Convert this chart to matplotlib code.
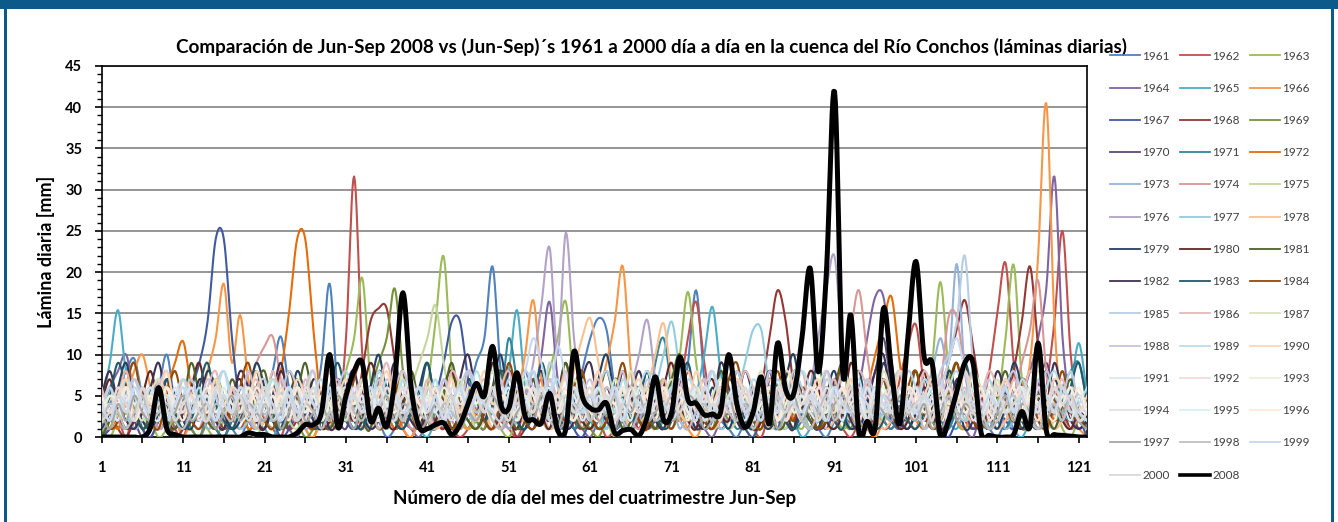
import numpy as np
import matplotlib
matplotlib.use("Agg")
import matplotlib.pyplot as plt
from matplotlib.patches import Rectangle
from matplotlib.lines import Line2D
from matplotlib.ticker import FixedLocator, MultipleLocator

plt.rcParams['font.family'] = ['Lato', 'DejaVu Sans']

days = list(range(1, 123))
years = list(range(1961, 2001)) + [2008]

y1961 = [2,4,6,8,9.5,5,3,6,10,4, 2,1,0,3,5,2,1,0,2,3,
         5,8,12.2,6,3,2,4,9,18.6,5, 2,1,3,4,2,0,1,3,5,2,
         1,3,6,4,2,5,9,12,20.7,8, 3,2,5,4,6,3,2,1,4,8,
         12,14.4,13,6,3,1,2,4,3,5, 2,4,9,17.8,7,3,2,1,0,2,
         4,6,3,2,1,3,5,2,1,0, 2,4,3,1,2,5,3,2,4,6,
         3,1,2,0,1,3,2,4,2,1, 0,2,3,5,4,2,1,3,2,4,
         2,1]
y1962 = [0,1,2,0,3,1,0,2,4,1, 0,3,5,2,1,0,2,1,3,6,
         2,1,0,3,4,2,1,5,8,3, 12,31.6,10,3,1,2,4,1,0,2,
         3,5,2,1,0,1,3,6,4,2, 1,0,2,4,7,3,1,2,5,3,
         1,2,0,1,3,6,2,1,4,7, 3,6,12,16.4,9,3,1,2,4,2,
         1,0,3,5,2,1,4,2,3,6, 2,1,0,2,5,3,1,2,7,11,
         13.6,6,2,1,3,4,2,1,3,8, 15,21.1,9,3,5,2,6,14,25,10,
         3,1]
y1963 = [1,0,2,3,1,4,2,0,1,3, 2,5,3,1,0,2,4,3,1,0,
         2,1,3,5,2,1,0,3,6,4, 8,12,19.3,7,3,2,5,3,1,2,
         6,14,21.9,8,3,1,2,4,3,1, 0,2,4,3,5,8,12,16.4,6,2,
         1,3,2,0,1,4,3,2,5,7, 4,10,17.6,9,3,1,2,4,2,1,
         0,3,2,5,4,2,1,3,2,6, 3,1,2,4,2,1,3,2,5,4,
         6,3,9,18.8,8,2,1,3,5,2, 4,12,20.9,7,3,1,2,4,1,0,
         2,1]
y1964 = [3,6,8,10,5,2,1,3,2,0, 1,2,4,3,1,0,2,5,3,1,
         2,4,3,1,0,2,3,1,4,6, 3,2,1,4,2,3,5,2,1,0,
         2,3,1,4,6,3,2,1,5,3, 2,4,8,5,10,16.4,7,3,2,1,
         0,2,3,1,4,2,5,3,1,2, 4,6,3,2,1,0,2,3,5,2,
         1,3,2,4,6,3,2,1,4,8, 5,3,2,6,12,17,17,9,3,2,
         1,4,2,3,5,2,1,0,3,4, 2,1,3,5,8,12,18,31.6,12,4,
         2,1]
y1965 = [4,9,15.4,8,9,5,3,1,2,4, 3,1,0,2,4,2,1,3,5,2,
         1,0,2,3,5,3,1,2,4,6, 3,2,5,4,1,2,3,6,2,1,
         0,2,4,3,6,4,2,5,9,4, 8,15.4,6,3,2,1,4,2,3,5,
         2,1,3,6,4,2,5,3,1,2, 4,3,2,5,10,15.8,8,3,2,1,
         3,5,2,1,4,2,0,1,3,2, 5,3,1,2,4,6,3,2,1,2,
         4,2,3,5,2,1,3,2,4,1, 2,3,1,0,2,5,3,2,4,6,
         11.4,5]
y1966 = [1,2,3,5,8,10,6,3,1,2, 0,2,4,8,12,18.6,9,14.8,7,3,
         2,1,3,2,4,1,0,2,3,5, 2,4,1,3,2,5,3,1,0,2,
         4,2,3,5,2,1,3,6,4,2, 3,5,10,16.6,7,3,2,1,4,3,
         2,5,9,14,20.7,8,3,2,1,4, 2,3,1,0,2,4,3,5,2,1,
         3,2,4,1,2,5,3,2,1,4, 2,3,5,2,1,0,2,4,3,2,
         1,3,2,5,4,2,1,3,2,4, 3,5,2,6,9,22,40.5,14,3,2,
         1,0]
y1967 = [0,1,3,2,4,1,0,2,3,5, 3,6,9,14,24,24,12,4,2,1,
         3,2,0,1,4,2,3,1,2,5, 2,1,3,2,6,3,1,2,4,2,
         3,5,9,14,14,7,3,2,1,4, 2,1,3,2,5,3,2,4,1,0,
         2,3,1,4,2,5,3,1,2,3, 5,2,4,3,1,2,6,3,2,1,
         0,2,3,1,4,2,5,3,2,1, 3,2,4,1,2,3,5,2,1,3,
         2,4,3,1,0,2,3,5,2,1, 3,2,1,4,3,2,5,3,2,1,
         2,0]
y1968 = [2,3,1,0,2,4,3,1,2,0, 1,3,2,5,3,1,2,4,2,1,
         3,2,4,1,2,3,5,2,1,4, 6,3,8,14,15.6,15.6,9,3,2,1,
         3,2,1,4,2,3,5,2,4,1, 2,0,1,3,2,4,3,5,2,1,
         3,2,4,1,2,3,1,4,2,5, 3,2,1,4,2,3,6,4,8,5,
         3,6,12,17.8,14,6,3,2,1,4, 2,3,5,2,4,3,2,1,3,5,
         2,4,3,6,9,13,16.6,11,5,3, 2,4,8,14,20.7,11,4,2,3,1,
         2,1]
y1969 = [0,2,1,3,2,4,5,3,1,2, 3,1,0,2,4,3,1,2,5,3,
         2,1,3,4,2,0,1,3,2,5, 3,2,4,6,9,12,18,8,3,2,
         1,3,2,4,3,5,2,1,3,2, 4,3,2,6,3,1,2,4,3,2,
         1,0,2,3,5,2,4,3,1,2, 3,2,5,3,2,1,4,2,3,5,
         2,1,3,4,2,3,5,2,4,6, 3,2,1,4,3,2,5,3,2,1,
         3,4,2,1,3,5,2,4,3,1, 2,3,5,2,1,3,2,4,3,2,
         1,2]
y1970 = [3,1,2,4,2,0,1,3,2,4, 2,3,5,2,1,3,2,4,1,2,
         4,3,2,1,3,5,2,1,3,2, 1,4,3,2,5,3,6,4,2,1,
         3,2,4,1,2,5,3,2,4,3, 2,1,4,6,3,2,5,3,1,2,
         3,5,2,4,1,3,2,6,4,2, 1,3,5,2,4,3,1,2,3,5,
         4,2,1,3,5,2,3,4,6,3, 2,4,3,1,5,8,12,6,3,2,
         4,2,3,5,2,6,3,1,2,4, 3,2,4,1,3,6,9,5,2,3,
         1,2]
y1971 = [2,5,3,1,2,4,6,3,2,1, 3,2,4,2,1,0,2,3,5,2,
         1,3,2,4,3,5,2,1,3,4, 2,5,3,2,4,1,3,2,5,3,
         2,1,3,5,2,4,3,6,8,5, 12,7,4,2,3,5,2,4,1,3,
         2,4,3,1,2,5,6,3,9,12, 6,3,2,4,3,2,5,3,1,2,
         4,3,2,5,3,1,2,4,3,2, 1,3,5,2,4,3,2,1,3,5,
         2,4,3,2,1,3,2,5,3,4, 2,1,3,2,4,5,3,2,6,8,
         9,4]
y1972 = [2,3,1,4,2,3,5,3,6,9, 11.6,6,3,2,1,3,2,4,1,2,
         3,5,8,15,24,24,13,4,2,1, 3,2,4,2,5,3,1,2,4,3,
         2,1,3,4,2,5,3,2,1,3, 4,2,5,3,2,1,3,4,2,5,
         3,1,2,4,3,2,5,3,2,1, 4,2,3,1,5,3,2,4,2,3,
         1,2,4,3,5,2,3,1,2,4, 3,5,2,4,6,10,14,17,9,3,
         2,1,3,2,4,3,5,2,1,3, 2,4,3,2,1,3,5,2,4,3,
         2,1]
y1973 = [1,3,2,4,1,2,3,5,2,1, 4,2,3,1,2,4,3,2,5,3,
         2,1,3,4,2,5,3,2,1,3, 4,2,5,3,2,1,3,4,6,3,
         2,4,3,1,2,3,5,2,4,3, 1,2,4,3,5,2,3,1,2,4,
         3,5,2,4,1,3,2,5,3,2, 4,1,3,2,5,3,2,4,3,1,
         2,4,3,5,2,1,3,2,4,3, 5,2,3,1,4,2,3,5,2,4,
         3,5,8,12,9,21,8,4,3,2, 3,1,2,4,3,2,5,3,2,1,
         3,2]
y1974 = [3,5,2,1,3,2,4,1,2,3, 2,4,3,5,2,1,3,4,6,9,
         11,12.2,7,3,2,4,3,1,2,4, 3,2,1,4,3,5,2,3,1,2,
         4,3,5,2,1,3,2,4,3,5, 2,1,3,4,2,6,3,2,4,1,
         3,2,5,3,4,2,1,3,5,2, 4,3,2,1,3,5,2,4,3,2,
         1,3,4,2,5,3,2,1,3,6, 4,8,13,17.8,10,4,2,3,1,2,
         4,3,2,6,14.5,14.5,8,3,2,4, 3,2,5,9,13,19,8,3,2,1,
         2,1]
y1975 = [2,1,3,2,4,3,1,5,2,3, 4,2,1,3,2,5,3,2,4,1,
         2,3,5,2,1,3,4,2,3,5, 2,4,3,1,2,4,5,3,6,9,
         12,16,9,4,2,3,1,2,4,3, 5,2,3,4,2,1,3,5,2,4,
         3,2,1,4,3,5,2,3,4,2, 1,3,2,5,4,2,3,1,2,4,
         3,5,2,3,1,4,2,3,5,2, 4,3,2,1,3,5,2,4,3,2,
         1,3,4,2,5,3,2,4,1,3, 2,5,3,2,4,3,1,2,3,5,
         2,3]
y1976 = [1,2,4,3,2,5,3,1,2,4, 3,2,1,4,3,2,5,3,2,1,
         3,4,2,5,3,1,2,4,3,2, 5,3,2,1,4,3,2,5,3,2,
         4,1,3,2,5,3,2,4,3,1, 2,4,5,9,16,23,10,24.8,12,4,
         3,2,4,1,3,6,10,14.2,7,3, 2,4,3,1,2,5,3,2,4,3,
         1,3,2,4,5,3,2,6,12,18, 21.9,10,4,2,3,1,4,3,2,5,
         3,2,4,1,3,5,2,3,4,2, 1,3,2,5,4,3,2,1,3,4,
         2,1]
y1977 = [2,4,3,1,5,3,2,4,3,2, 1,3,2,4,2,5,3,1,2,4,
         3,2,5,3,4,2,1,3,2,5, 4,2,3,1,2,4,3,5,2,3,
         1,4,2,3,5,2,4,3,1,2, 3,5,2,4,3,1,2,4,3,5,
         2,3,1,4,2,3,5,3,6,10, 14,8,3,2,4,3,1,2,5,9,
         13,13,6,3,2,4,3,1,2,3, 5,2,4,3,1,2,3,5,2,4,
         3,1,2,4,3,5,2,3,1,2, 4,3,2,5,3,1,2,4,3,2,
         3,1]
y1978 = [3,1,2,4,3,5,2,1,3,2, 4,3,5,2,1,3,2,4,3,1,
         2,4,3,5,2,3,1,2,4,3, 5,2,3,4,1,2,3,5,2,4,
         3,1,2,4,3,5,2,3,1,2, 4,3,2,5,3,1,2,4,8,12,
         14.4,9,4,2,3,1,4,6,10,13.8, 7,3,2,4,3,1,2,5,3,2,
         4,3,1,2,5,3,2,4,3,1, 2,3,5,2,4,3,1,2,3,5,
         2,4,3,1,2,5,3,2,4,3, 1,2,4,3,5,2,3,1,2,4,
         3,2]
y1979 = [1,3,6,9,4,2,1,3,7,5, 2,1,4,8,6,3,1,2,5,9,
         6,2,1,3,8,5,2,1,4,7, 3,1,2,6,10,5,2,1,3,6,
         9,4,2,1,3,7,5,2,6,10, 4,2,1,5,8,3,1,2,6,4,
         2,7,10,5,2,1,4,8,3,2, 5,9,4,1,2,6,3,1,4,8,
         5,2,1,3,7,10,4,2,1,5, 8,3,1,2,6,4,9,5,2,1,
         3,7,4,2,8,5,1,2,6,3, 1,4,9,6,2,1,3,7,4,2,
         5,3]
y1980 = [4,7,3,1,2,5,8,4,2,1, 3,6,9,4,2,1,5,7,3,2,
         1,4,8,5,2,6,3,1,2,7, 4,2,5,9,6,2,1,4,7,3,
         1,2,6,8,4,2,1,3,9,5, 2,1,4,7,3,1,5,9,4,2,
         1,3,6,4,8,5,2,1,3,6, 9,4,2,1,5,7,3,2,6,4,
         1,2,7,5,3,1,4,8,6,2, 1,3,9,5,2,4,7,3,1,2,
         6,8,3,1,2,5,9,4,2,1, 3,7,5,2,1,4,8,5,2,1,
         3,2]
y1981 = [0,2,5,8,4,1,3,6,2,1, 4,9,5,2,1,3,7,4,2,6,
         8,3,1,2,5,9,4,2,1,3, 6,4,2,1,7,5,2,3,8,4,
         2,1,5,9,4,2,1,3,6,8, 3,1,2,7,5,2,4,9,3,1,
         2,5,8,4,1,2,6,3,1,4, 7,10,4,2,1,3,8,5,2,1,
         4,6,3,1,2,8,5,2,1,3, 6,9,4,2,1,5,7,3,2,4,
         8,3,1,2,6,9,4,2,1,3, 5,8,4,1,2,6,3,1,4,7,
         3,1]
y1982 = [5,8,4,2,1,3,6,9,4,2, 1,3,7,5,2,1,4,8,6,2,
         1,5,9,4,2,3,7,5,1,2, 6,8,3,1,2,5,9,4,2,1,
         3,6,4,2,7,10,5,2,1,3, 8,5,2,1,4,6,3,1,2,7,
         9,4,2,1,3,5,8,4,2,1, 4,7,5,2,1,3,9,6,2,1,
         3,5,8,4,2,1,6,3,1,2, 7,5,2,1,4,8,10,4,2,1,
         3,6,4,1,2,7,5,2,1,4, 8,5,2,1,3,6,4,9,5,2,
         1,2]
y1983 = [2,5,9,6,3,1,2,4,7,3, 1,2,6,9,4,2,1,3,5,8,
         4,2,1,5,7,3,1,2,6,9, 5,2,1,4,8,6,2,1,3,5,
         9,4,2,1,3,7,5,2,4,8, 6,2,1,3,9,5,2,1,4,6,
         3,1,2,7,5,2,4,8,3,1, 2,6,9,4,2,1,3,7,5,2,
         1,4,8,6,2,1,3,5,9,4, 2,1,5,8,3,1,2,6,4,2,
         1,3,7,5,2,4,9,5,2,1, 3,6,4,2,1,5,8,4,2,6,
         9,4]
y1984 = [3,1,2,6,9,4,2,1,5,8, 4,2,1,3,7,5,2,6,9,4,
         2,1,4,8,5,2,1,3,6,4, 2,7,9,4,1,2,5,8,3,1,
         2,6,4,1,3,8,5,2,1,4, 9,5,2,1,3,7,4,2,6,8,
         3,1,2,5,9,4,2,1,6,3, 1,4,8,5,2,1,3,7,9,4,
         2,1,5,8,4,2,6,3,1,2, 4,9,5,2,1,3,7,4,2,6,
         8,3,1,2,5,9,4,2,1,3, 6,4,2,7,5,2,1,4,8,3,
         2,1]
y1985 = [4,6,3,5,7,4,2,5,6,3, 5,7,4,2,6,8,5,3,4,6,
         7,4,5,8,6,3,5,7,4,6, 8,5,3,6,4,7,5,2,4,6,
         5,3,7,4,6,8,5,3,6,4, 7,5,8,6,4,9,6,3,5,7,
         4,6,8,5,3,6,4,7,5,3, 6,8,4,5,7,3,6,4,8,5,
         3,6,4,7,5,8,6,4,3,7, 5,8,6,4,7,3,5,6,4,8,
         6,4,5,8,10,14,22,9,5,7, 4,6,8,5,3,7,4,6,5,8,
         4,3]
y1986 = [6,3,5,8,4,6,3,7,5,4, 7,5,3,6,8,4,6,3,5,7,
         4,8,5,6,3,7,4,5,8,6, 3,5,7,4,6,9,5,3,6,4,
         7,5,4,8,6,3,5,7,4,6, 8,4,6,5,3,7,5,8,4,6,
         5,7,3,6,4,8,5,6,3,7, 4,6,8,5,7,3,6,4,5,8,
         6,4,7,5,3,6,8,4,6,5, 7,3,5,8,6,4,7,5,3,6,
         4,8,6,5,7,4,6,3,5,8, 6,4,7,5,8,6,4,5,7,3,
         5,4]
y1987 = [2,5,3,6,4,2,5,7,3,4, 6,3,5,4,7,5,3,6,4,2,
         5,7,4,3,6,5,8,4,3,5, 6,4,7,5,3,6,4,8,5,3,
         4,6,5,3,7,4,6,5,8,4, 3,5,7,4,6,3,5,4,7,5,
         6,4,3,7,5,8,4,6,3,5, 7,5,4,6,3,5,7,4,6,3,
         5,8,4,6,7,3,5,4,6,8, 4,5,7,3,6,4,8,5,3,6,
         5,4,6,7,3,5,4,8,6,4, 7,3,5,6,4,8,5,3,6,4,
         3,2]
y1988 = [5,3,6,4,7,5,3,6,8,4, 3,6,4,7,5,3,6,4,8,5,
         6,3,7,5,4,6,8,3,5,7, 4,6,5,3,7,4,6,8,5,3,
         6,4,7,5,3,8,6,4,5,7, 3,6,4,8,5,7,4,6,3,5,
         7,4,6,5,8,3,6,4,7,5, 3,7,5,4,6,8,4,5,7,3,
         6,4,8,5,3,7,5,6,4,8, 5,3,6,4,7,5,3,6,8,4,
         6,5,3,7,4,6,5,8,4,6, 3,7,5,4,6,3,8,5,4,6,
         5,3]
y1989 = [3,6,4,7,5,3,6,4,2,5, 7,4,6,3,5,8,4,6,5,3,
         4,7,5,3,6,4,5,7,3,6, 5,3,6,4,8,5,3,7,4,6,
         4,7,3,6,5,4,8,5,3,6, 5,4,6,8,3,5,7,4,6,3,
         4,6,5,3,7,4,6,8,5,4, 6,3,7,5,4,8,5,3,6,4,
         7,5,3,6,4,5,8,6,4,3, 6,4,5,7,3,6,4,5,8,4,
         3,7,5,4,6,8,5,3,6,5, 4,6,3,7,5,4,6,8,5,3,
         4,6]
y1990 = [4,2,5,7,3,6,4,5,8,4, 6,3,5,4,7,3,6,5,4,8,
         5,3,6,4,7,5,3,6,4,5, 7,4,6,3,5,8,4,6,5,3,
         6,5,4,7,3,6,5,8,4,6, 4,7,5,3,6,4,5,7,3,6,
         5,8,4,6,3,5,7,4,6,5, 3,6,4,8,5,4,6,3,7,5,
         4,6,5,3,8,6,4,5,7,3, 6,4,7,5,3,6,5,4,8,6,
         4,5,7,3,6,4,8,5,3,6, 5,7,4,6,3,5,4,7,6,4,
         3,5]
y1991 = [2,4,3,5,2,4,6,3,5,2, 4,6,3,5,2,4,3,6,4,5,
         3,5,2,4,6,3,5,4,2,6, 4,3,5,2,6,4,3,5,7,4,
         3,5,4,2,6,3,5,4,6,3, 5,2,4,6,3,5,4,3,6,4,
         2,5,3,6,4,3,5,2,4,6, 3,5,4,2,6,4,3,5,4,2,
         5,3,6,4,2,5,4,6,3,5, 4,2,5,3,6,4,5,3,2,4,
         6,3,5,4,2,6,4,3,5,4, 3,5,2,6,4,3,5,4,2,5,
         3,4]
y1992 = [5,3,6,4,2,5,3,6,4,5, 3,5,2,4,6,3,5,4,6,2,
         4,6,3,5,4,2,6,3,5,4, 6,2,4,5,3,6,4,2,5,3,
         4,6,3,5,2,4,6,3,5,4, 2,5,3,6,4,5,3,4,2,6,
         4,3,5,2,6,4,3,5,4,6, 2,4,6,3,5,4,2,5,3,6,
         4,5,3,6,2,4,5,3,6,4, 3,6,4,2,5,3,4,6,5,3,
         5,4,2,6,3,5,4,3,6,2, 4,5,3,6,4,2,5,3,4,6,
         2,3]
y1993 = [3,5,4,2,6,3,5,4,6,3, 5,2,4,6,3,5,4,3,6,4,
         2,5,3,6,4,3,5,2,4,6, 3,5,4,2,6,4,3,5,4,2,
         5,3,6,4,2,5,4,6,3,5, 4,2,5,3,6,4,5,3,2,4,
         6,3,5,4,2,6,4,3,5,4, 3,5,2,6,4,3,5,4,2,5,
         3,4,5,2,4,6,3,5,4,3, 6,4,3,5,2,4,6,3,5,4,
         2,5,3,6,4,5,3,4,2,6, 4,3,5,2,6,4,3,5,4,6,
         3,2]
y1994 = [4,2,5,3,6,4,2,5,3,6, 4,5,3,2,6,4,3,5,4,2,
         6,3,5,4,2,6,4,3,5,4, 3,6,4,5,3,2,4,6,3,5,
         4,3,2,6,4,5,3,4,2,6, 3,5,4,6,2,4,5,3,6,4,
         5,3,4,2,6,3,5,4,6,2, 4,6,3,5,4,2,5,3,6,4,
         2,5,4,3,6,4,2,5,3,6, 4,3,5,6,2,4,3,5,4,6,
         3,2,5,4,6,3,5,2,4,3, 6,4,5,3,2,6,4,3,5,4,
         2,3]
y1995 = [3,4,2,6,4,5,3,2,5,4, 6,3,4,5,2,6,3,5,4,3,
         5,2,4,6,3,5,4,2,6,3, 4,5,3,6,2,4,5,3,4,6,
         2,5,4,3,6,4,2,5,3,4, 6,3,5,2,4,6,3,4,5,2,
         4,6,3,5,4,2,6,3,5,4, 3,5,4,6,2,4,3,5,6,3,
         4,2,5,3,6,4,5,3,2,4, 6,3,4,5,2,6,3,4,5,3,
         2,4,6,3,5,4,2,6,3,5, 4,3,5,6,2,4,5,3,4,2,
         5,3]
y1996 = [5,3,4,6,2,4,5,3,6,4, 2,5,4,3,6,4,5,2,3,6,
         4,3,5,2,6,4,3,5,4,2, 5,4,6,3,2,5,4,3,6,4,
         3,6,2,4,5,3,6,4,2,5, 4,3,6,5,2,4,3,6,4,5,
         3,2,5,4,6,3,4,5,2,6, 4,5,3,2,6,4,5,3,4,6,
         3,4,6,2,5,3,4,6,5,2, 4,6,3,5,4,2,5,4,3,6,
         5,3,4,6,2,5,3,4,6,3, 2,4,6,3,5,4,3,2,5,4,
         6,3]
y1997 = [3,1,4,2,5,3,2,4,1,3, 5,2,3,4,1,3,5,2,4,3,
         2,4,1,3,5,2,3,4,2,5, 3,1,4,2,3,5,2,4,3,1,
         2,4,3,5,1,3,2,4,5,3, 1,3,4,2,5,3,1,2,4,3,
         5,2,3,1,4,3,5,2,3,4, 2,3,5,4,1,2,3,5,2,4,
         3,2,4,1,3,5,2,4,3,2, 4,5,3,2,1,4,3,2,5,3,
         2,4,1,3,5,2,4,3,2,1, 3,5,2,4,3,1,2,4,3,5,
         2,1]
y1998 = [2,4,3,1,3,5,2,3,4,2, 1,3,5,2,4,3,2,5,3,1,
         4,2,3,5,2,4,3,1,3,2, 5,3,2,4,1,3,4,2,5,3,
         2,1,4,3,2,5,3,4,2,1, 3,5,2,4,3,2,1,4,3,5,
         2,4,3,5,2,1,3,4,2,3, 5,2,1,3,4,2,5,3,2,4,
         1,3,2,5,3,4,2,1,3,5, 2,4,3,1,2,3,5,4,2,3,
         4,1,3,2,5,3,2,4,3,1, 2,4,5,3,2,1,3,4,2,5,
         3,2]
y1999 = [4,2,5,3,6,4,3,5,2,4, 6,3,5,4,2,5,3,6,4,3,
         5,4,2,6,3,5,4,3,6,2, 4,5,3,6,4,2,5,3,4,6,
         3,5,2,4,6,3,5,4,3,2, 5,6,8,12,9,5,11,7,4,3,
         5,3,4,6,2,5,4,3,6,4, 3,5,4,2,6,3,5,4,6,3,
         4,2,5,3,6,4,3,5,4,2, 6,4,3,5,4,2,5,3,6,4,
         3,5,4,6,9,12,8,4,3,5, 4,6,3,5,2,4,5,3,6,4,
         3,2]
y2000 = [2,3,5,4,2,6,3,4,5,2, 4,5,3,2,6,4,3,5,2,4,
         6,3,4,5,2,4,6,3,5,4, 2,5,3,4,6,3,2,5,4,3,
         6,4,3,5,2,4,5,3,6,4, 2,5,4,3,6,2,4,5,3,4,
         6,3,5,2,4,6,3,4,5,2, 4,3,5,6,2,4,3,5,4,6,
         3,5,2,4,3,6,4,5,2,4, 5,3,6,4,2,5,4,3,6,3,
         4,5,2,6,3,4,5,3,2,4, 6,3,4,5,2,4,3,6,4,5,
         2,3]
y2008 = [0,0,0,0,0,0,1.2,6,1,0.3, 0,0,0,0,0,0,0,0,0.5,0.3,
         0.3,0,0,0,0.5,1.5,1.5,3,10,1.2, 5,8,9,2,3.5,1.3,7,17.5,6,1.2,
         1,1.5,1.7,0.3,1.5,4,6.5,5,11,4, 3.5,7.8,2.5,2.1,1.7,5.3,0.8,1,10.4,5,
         3.5,3.3,4.1,0.5,0.8,0.9,0.2,2.5,7.3,2.1, 3,9.7,4.5,4.1,2.7,2.8,3,10,4,1.2,
         3,7.3,1.6,11.4,5.7,5.3,12,20.5,7.9,20, 41.9,7.9,14.8,0.4,1.9,1.2,15.6,8,1.6,12,
         21.3,9.7,8.9,0.2,2,5.5,9,9,0.5,0.2, 0,0,0.3,3.1,1.3,11.4,0.8,0.3,0.2,0.1,
         0,0]

series = [y1961, y1962, y1963, y1964, y1965, y1966, y1967, y1968, y1969, y1970,
          y1971, y1972, y1973, y1974, y1975, y1976, y1977, y1978, y1979, y1980,
          y1981, y1982, y1983, y1984, y1985, y1986, y1987, y1988, y1989, y1990,
          y1991, y1992, y1993, y1994, y1995, y1996, y1997, y1998, y1999, y2000,
          y2008]

for yr, s in zip(years, series):
    if len(s) != len(days):
        raise ValueError(f"series {yr} has {len(s)} values")

colors = ['#4F81BD', '#C0504D', '#9BBB59', '#8064A2', '#4BACC6', '#F79646',
          '#3F5A9E', '#953735', '#76923C', '#5F497A', '#31859C', '#E46C0A',
          '#95B3D7', '#D99694', '#C3D69B', '#B3A2C7', '#93CDDD', '#FAC090',
          '#244062', '#632523', '#4F6228', '#3F3151', '#215968', '#974806',
          '#B9CDE5', '#E6B9B8', '#D7E4BD', '#CCC1DA', '#B7DEE8', '#FCD5B5',
          '#DCE6F2', '#F2DCDB', '#EBF1DE', '#E5E0EC', '#DBEEF4', '#FDEADA',
          '#A6A6A6', '#BFBFBF', '#C6D9F1', '#D9D9D9', '#000000']


def smooth(x, y, n=10):
    """Excel-like smoothed line (cubic Bezier through every data point)."""
    x = np.asarray(x, float)
    y = np.asarray(y, float)
    xp = np.concatenate([[x[0]], x, [x[-1]]])
    yp = np.concatenate([[y[0]], y, [y[-1]]])
    t = np.linspace(0, 1, n, endpoint=False)[:, None]
    xs, ys = [], []
    for i in range(len(x) - 1):
        p0 = np.array([xp[i], yp[i]])
        p1 = np.array([xp[i + 1], yp[i + 1]])
        p2 = np.array([xp[i + 2], yp[i + 2]])
        p3 = np.array([xp[i + 3], yp[i + 3]])
        c1 = p1 + (p2 - p0) / 6.0
        c2 = p2 - (p3 - p1) / 6.0
        pts = ((1 - t) ** 3) * p1 + 3 * ((1 - t) ** 2) * t * c1 + 3 * (1 - t) * t ** 2 * c2 + t ** 3 * p2
        xs.append(pts[:, 0])
        ys.append(pts[:, 1])
    xs.append([x[-1]])
    ys.append([y[-1]])
    return np.concatenate(xs), np.concatenate(ys)


fig = plt.figure(figsize=(13.38, 5.22), dpi=100)
fig.patch.set_facecolor('white')

# blue frame of the page
fig.add_artist(Rectangle((0, 1 - 9 / 522), 1, 9 / 522, transform=fig.transFigure,
                         facecolor='#0B5A8A', edgecolor='none'))
fig.add_artist(Rectangle((4 / 1338, 0), 3 / 1338, 1, transform=fig.transFigure,
                         facecolor='#0B5A8A', edgecolor='none'))
fig.add_artist(Rectangle((1331 / 1338, 0), 3 / 1338, 1, transform=fig.transFigure,
                         facecolor='#0B5A8A', edgecolor='none'))

ax = fig.add_axes([0.076, 0.1628, 0.7364, 0.7108])

handles = []
for yr, s, c in zip(years, series, colors):
    xs, ys = smooth(days, s)
    if yr == 2008:
        ax.plot(xs, ys, color=c, lw=3.6, solid_joinstyle='round', zorder=5)
        h = Line2D([], [], color=c, lw=2.6)
    else:
        ax.plot(xs, ys, color=c, lw=1.5, zorder=3)
        h = Line2D([], [], color=c, lw=1.3)
    handles.append((h, str(yr)))

ax.set_xlim(1, 122)
ax.set_ylim(0, 45)
ax.yaxis.set_major_locator(MultipleLocator(5))
ax.yaxis.set_minor_locator(MultipleLocator(1))
ax.xaxis.set_major_locator(FixedLocator(list(range(1, 122, 10))))
ax.xaxis.set_minor_locator(FixedLocator(list(range(6, 122, 10))))
ax.grid(axis='y', which='major', color='#8C8C8C', lw=1.3, zorder=1)
ax.set_axisbelow(True)
for sp in ax.spines.values():
    sp.set_color('black')
    sp.set_linewidth(1.2)
ax.tick_params(axis='y', which='major', direction='out', length=5, width=1.2, pad=9,
               labelsize=10.5)
ax.tick_params(axis='y', which='minor', direction='out', length=3.5, width=1.0)
ax.tick_params(axis='x', which='major', direction='out', length=4, width=1.2, pad=13,
               labelsize=10.5)
ax.tick_params(axis='x', which='minor', direction='out', length=4, width=1.2)
for lab in ax.get_xticklabels() + ax.get_yticklabels():
    lab.set_fontweight('bold')

ax.set_ylabel('Lámina diaria [mm]', fontsize=13, fontweight='bold')
ax.yaxis.set_label_coords(-0.0475, 0.50)
ax.set_xlabel('Número de día del mes del cuatrimestre Jun-Sep', fontsize=13.5, fontweight='bold')
ax.xaxis.set_label_coords(0.50, -0.143)
ax.text(0.5585, 1.051,
        'Comparación de Jun-Sep 2008 vs (Jun-Sep)´s 1961 a 2000 día a día en la cuenca del Río Conchos (láminas diarias)',
        transform=ax.transAxes, ha='center', va='center', fontsize=13.6, fontweight='bold')

# legend: Excel fills rows first, matplotlib fills columns -> reorder
order = list(range(0, 41, 3)) + list(range(1, 41, 3)) + list(range(2, 41, 3))
leg = fig.legend([handles[i][0] for i in order], [handles[i][1] for i in order],
                 loc='upper left', bbox_to_anchor=(1110 / 1338, 1 - 50.5 / 522),
                 ncol=3, frameon=False, fontsize=8.5, labelspacing=1.80,
                 handlelength=2.5, handletextpad=0.25, columnspacing=0.85,
                 borderpad=0, borderaxespad=0, labelcolor='#404040')

fig.savefig('out.png', dpi=100)
